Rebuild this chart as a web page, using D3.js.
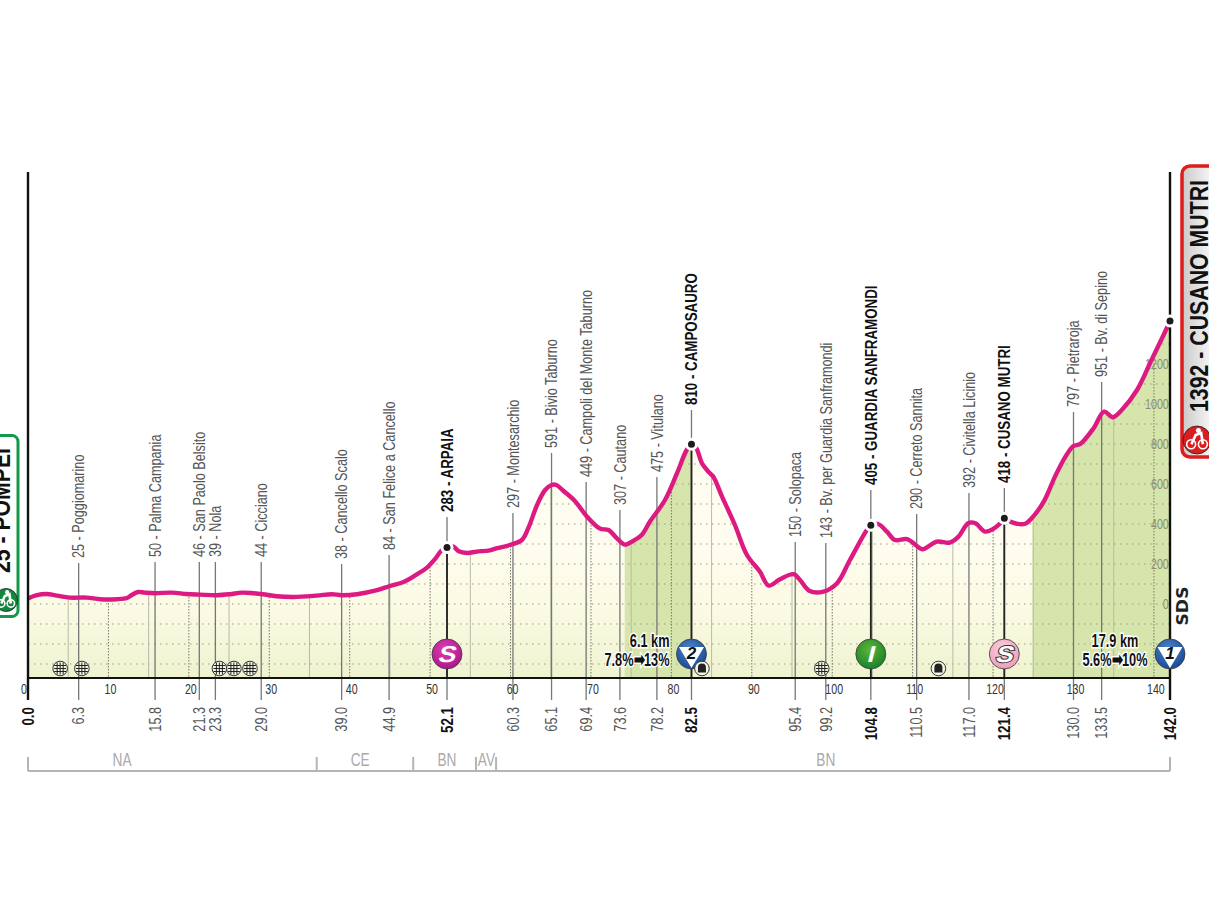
<!DOCTYPE html>
<html>
<head>
  <meta charset="utf-8">
  <title>Stage profile Pompei - Cusano Mutri</title>
  <style>
    html, body { margin: 0; padding: 0; background: #fff; overflow: hidden; }
    svg { display: block; }
    text { font-family: "Liberation Sans", sans-serif; }
  </style>
  <script src="https://d3js.org/d3.v7.min.js"></script>
</head>
<body>
  <div id="chart"></div>
  <script>
    // Profile
    const profileKm = [0, 1.1, 2.3, 3.6, 5.2, 7.3, 9, 11, 12.3, 12.9, 13.7, 14.5, 15.8, 17.9, 19.7, 21.4, 23.5, 25.1, 26.6, 28, 29.2, 30.9, 33, 35.9, 37.8, 39, 40.9, 43.4, 45, 46.7, 48.3, 49.6, 50.6, 51.4, 52.1, 52.9, 53.5, 54.6, 55.8, 57.4, 58.3, 59.9, 61.4, 62.2, 63.3, 64.3, 65.1, 65.7, 66.6, 68, 69.5, 71.1, 72.2, 73.2, 74.2, 75.3, 76.3, 77.3, 79.2, 80.7, 81.9, 82.5, 83.1, 83.8, 84.6, 85.2, 86.3, 87.9, 89.4, 91, 92.1, 93.5, 95.2, 96, 97.2, 98.9, 100.6, 102.2, 104.3, 104.8, 105.7, 106.8, 107.8, 109.3, 110.9, 111.3, 113, 114.6, 115.7, 116.9, 117.8, 119, 120, 120.9, 121.4, 122.3, 123.9, 124.8, 126.3, 127.7, 129, 130, 130.8, 132.5, 133.8, 134.9, 136, 137.9, 139.7, 141.2, 142];
    const profileElev = [28, 44, 50, 42, 32, 32, 24, 24, 30, 45, 60, 57, 54, 57, 50, 47, 44, 49, 57, 54, 49, 39, 35, 42, 49, 44, 49, 69, 90, 110, 147, 182, 224, 267, 282, 287, 265, 255, 262, 268, 279, 295, 320, 379, 495, 570, 595, 595, 565, 515, 437, 377, 370, 329, 297, 317, 345, 410, 520, 654, 770, 799, 779, 704, 662, 637, 537, 395, 245, 162, 92, 124, 149, 120, 65, 62, 104, 220, 370, 394, 400, 362, 320, 324, 279, 274, 312, 307, 337, 404, 404, 362, 375, 404, 429, 409, 400, 429, 512, 637, 737, 790, 799, 879, 962, 934, 970, 1070, 1220, 1345, 1415];

    const placeKm = [6.3, 15.8, 21.3, 23.3, 29.0, 39.0, 44.9, 52.1, 60.3, 65.1, 69.4, 73.6, 78.2, 82.5, 95.4, 99.2, 104.8, 110.5, 117.0, 121.4, 130.0, 133.5];
    const placeNames = ["25 - Poggiomarino", "50 - Palma Campania", "46 - San Paolo Belsito", "39 - Nola", "44 - Cicciano", "38 - Cancello Scalo", "84 - San Felice a Cancello", "283 - ARPAIA", "297 - Montesarchio", "591 - Bivio Taburno", "449 - Campoli del Monte Taburno", "307 - Cautano", "475 - Vitulano", "810 - CAMPOSAURO", "150 - Solopaca", "143 - Bv. per Guardia Sanframondi", "405 - GUARDIA SANFRAMONDI", "290 - Cerreto Sannita", "392 - Civitella Licinio", "418 - CUSANO MUTRI", "797 - Pietraroja", "951 - Bv. di Sepino"];

    const kmTicks = [0, 10, 20, 30, 40, 50, 60, 70, 80, 90, 100, 110, 120, 130, 140];
    const elevTicks = [0, 200, 400, 600, 800, 1000, 1200];

    const climbZones = [[74.2, 82.5], [124.9, 142]];
    const provinceBreaks = [0, 35.9, 47.9, 55.7, 58.2, 142];
    const provinceNames = ["NA", "CE", "BN", "AV", "BN"];
    const provinceLabelKm = [11.7, 41.3, 52.1, 57, 99.2];

    const railKm = [4.0, 6.7, 23.8, 25.6, 27.6, 98.7];
    const tunnelKm = [83.8, 113.2];

    const width = 1209, height = 907;
    // no condensed font here, so squeeze along the reading direction
    const narrow = 0.76, nameNarrow = 0.745, boldNarrow = 0.785;
    const x = d3.scaleLinear().domain([0, 142]).range([28, 1170]);
    const y = d3.scaleLinear().domain([-370, 1415]).range([678, 321]);
    const baseY = y(-370);

    const profile = profileKm.map((km, i) => [km, profileElev[i]]);
    const elevAt = d3.scaleLinear().domain(profileKm).range(profileElev);
    const curve = d3.curveCatmullRom.alpha(0.5);

    const svg = d3.select("#chart").append("svg")
      .attr("width", width)
      .attr("height", height)
      .attr("viewBox", [0, 0, width, height]);

    const defs = svg.append("defs");

    const fade = defs.append("linearGradient").attr("id", "areaFill")
      .attr("gradientUnits", "userSpaceOnUse")
      .attr("x1", 0).attr("x2", 0).attr("y1", 540).attr("y2", baseY);
    fade.append("stop").attr("offset", 0).attr("stop-color", "#fffdf0");
    fade.append("stop").attr("offset", 0.5).attr("stop-color", "#fbfae4");
    fade.append("stop").attr("offset", 1).attr("stop-color", "#eef3cf");

    const endBox = defs.append("linearGradient").attr("id", "endFill")
      .attr("x1", 0).attr("x2", 1).attr("y1", 0).attr("y2", 0);
    endBox.append("stop").attr("offset", 0).attr("stop-color", "#c9c9c9");
    endBox.append("stop").attr("offset", 0.7).attr("stop-color", "#ffffff");

    function badgeFill(id, light, dark) {
      const g = defs.append("radialGradient").attr("id", id)
        .attr("cx", 0.45).attr("cy", 0.35).attr("r", 0.75);
      g.append("stop").attr("offset", 0).attr("stop-color", light);
      g.append("stop").attr("offset", 1).attr("stop-color", dark);
    }
    badgeFill("bMagenta", "#e040b0", "#a5108a");
    badgeFill("bBlue", "#4f86cc", "#123f8e");
    badgeFill("bGreen", "#5fb436", "#0f7a2a");
    badgeFill("bPink", "#fbd3e1", "#ee92b4");

    const areaGen = d3.area().x(d => x(d[0])).y0(baseY).y1(d => y(d[1])).curve(curve);
    const lineGen = d3.line().x(d => x(d[0])).y(d => y(d[1])).curve(curve);

    defs.append("clipPath").attr("id", "underCurve")
      .append("path").attr("d", areaGen(profile));

    svg.append("path").attr("d", areaGen(profile)).attr("fill", "url(#areaFill)");

    const under = svg.append("g").attr("clip-path", "url(#underCurve)");

    // climb shading
    under.selectAll("rect.zone").data(climbZones).enter().append("rect")
      .attr("class", "zone")
      .attr("x", d => x(d[0]))
      .attr("width", d => x(d[1]) - x(d[0]))
      .attr("y", 300)
      .attr("height", baseY - 300)
      .attr("fill", "#d6e5ab");

    // dotted grid, one row every 100 m, one column every 5 km
    under.selectAll("line.rowGrid").data(d3.range(-300, 1401, 100)).enter().append("line")
      .attr("x1", x(0)).attr("x2", x(142))
      .attr("y1", d => y(d)).attr("y2", d => y(d))
      .attr("stroke", "#9a9d80")
      .attr("stroke-width", 1)
      .attr("stroke-dasharray", "1.5 4.5");
    under.selectAll("line.colGrid").data(d3.range(5, 141, 5)).enter().append("line")
      .attr("x1", d => x(d)).attr("x2", d => x(d))
      .attr("y1", 300).attr("y2", baseY)
      .attr("stroke", d => d % 10 === 0 ? "#77796a" : "#b9bba6")
      .attr("stroke-width", 1)
      .attr("stroke-dasharray", d => d % 10 === 0 ? "1.5 1.5" : null);

    // elevation labels on the right
    const elevAxis = svg.append("g")
      .attr("transform", `translate(${x(142) + 1},0)`)
      .call(d3.axisLeft(y).tickValues(elevTicks).tickSize(0).tickFormat(d3.format("d")));
    elevAxis.select(".domain").remove();
    elevAxis.selectAll("text")
      .attr("font-size", 14)
      .attr("font-family", null)
      .attr("fill", "#8b8e72")
      .attr("transform", `scale(${narrow},1)`);

    // leaders and names
    const leaderTops = [563, 562, 562, 562, 562, 564, 555, 517, 513, 453, 482, 510, 477, 410, 542, 543, 490, 514, 493, 488, 412, 382];
    const isBold = d => /^[0-9]+ - [A-Z ]+$/.test(d);
    const squeeze = i => isBold(placeNames[i]) ? boldNarrow : nameNarrow;

    const places = svg.append("g").selectAll("g").data(placeKm).enter().append("g")
      .attr("transform", d => `translate(${x(d)},0)`);

    places.append("line")
      .attr("y1", (d, i) => leaderTops[i])
      .attr("y2", 700)
      .attr("stroke", "#777")
      .attr("stroke-width", 1.3);

    places.filter((d, i) => isBold(placeNames[i])).append("line")
      .attr("y1", d => y(elevAt(d)))
      .attr("y2", baseY)
      .attr("stroke", "#222")
      .attr("stroke-width", 1.8);

    places.append("text")
      .attr("transform", (d, i) => `translate(5.8,${leaderTops[i] - 5}) rotate(-90) scale(${squeeze(i)},1)`)
      .attr("font-size", 17)
      .attr("font-weight", (d, i) => isBold(placeNames[i]) ? "bold" : "normal")
      .attr("fill", (d, i) => isBold(placeNames[i]) ? "#111" : "#555")
      .text((d, i) => placeNames[i]);

    places.append("text")
      .attr("transform", (d, i) => `translate(5.8,707) rotate(-90) scale(${squeeze(i)},1)`)
      .attr("text-anchor", "end")
      .attr("font-size", 17)
      .attr("font-weight", (d, i) => isBold(placeNames[i]) ? "bold" : "normal")
      .attr("fill", (d, i) => isBold(placeNames[i]) ? "#111" : "#555")
      .text(d => d.toFixed(1));

    // the line itself
    svg.append("path")
      .attr("d", lineGen(profile))
      .attr("fill", "none")
      .attr("stroke", "#dc1a82")
      .attr("stroke-width", 4.4)
      .attr("stroke-linejoin", "round");

    // frame
    svg.append("line").attr("x1", x(0)).attr("x2", x(142)).attr("y1", baseY).attr("y2", baseY)
      .attr("stroke", "#111").attr("stroke-width", 2);
    svg.selectAll("line.frame").data([0, 142]).enter().append("line")
      .attr("x1", d => x(d)).attr("x2", d => x(d))
      .attr("y1", 172).attr("y2", 700)
      .attr("stroke", "#111").attr("stroke-width", 2.4);

    // km axis
    const kmAxis = svg.append("g")
      .attr("transform", `translate(0,${baseY})`)
      .call(d3.axisBottom(x).tickValues(kmTicks).tickSize(0).tickFormat(d3.format("d")));
    kmAxis.select(".domain").remove();
    kmAxis.selectAll("text")
      .attr("font-size", 14)
      .attr("font-family", null)
      .attr("fill", "#333")
      .attr("y", 6)
      .attr("transform", d => `translate(${d === 0 ? -4.5 : 1.5},0) scale(${narrow},1)`);

    // first and last km labels sit on the frame
    [[0, "0.0"], [142, "142.0"]].forEach(([km, label]) => {
      svg.append("text")
        .attr("transform", `translate(${x(km) + 5.8},707) rotate(-90) scale(${boldNarrow},1)`)
        .attr("text-anchor", "end")
        .attr("font-size", 17)
        .attr("font-weight", "bold")
        .attr("fill", "#111")
        .text(label);
    });

    // summit dots
    svg.selectAll("circle.summit").data([52.1, 82.5, 104.8, 121.4, 142]).enter().append("circle")
      .attr("cx", d => x(d))
      .attr("cy", d => y(elevAt(d)))
      .attr("r", 5)
      .attr("fill", "#1c1c1c")
      .attr("stroke", "#fff")
      .attr("stroke-width", 3);

    // badges
    function badge(km, fill) {
      const g = svg.append("g").attr("transform", `translate(${x(km)},654)`);
      g.append("circle").attr("r", 15).attr("fill", `url(#${fill})`)
        .attr("stroke", "#3a3a3a").attr("stroke-width", 0.8);
      return g;
    }
    function letter(g, txt, fill, stroke) {
      g.append("text")
        .attr("text-anchor", "middle")
        .attr("transform", "skewX(-14) scale(1.15,1)")
        .attr("x", 1)
        .attr("y", 8)
        .attr("font-size", 23)
        .attr("font-weight", "bold")
        .attr("fill", fill)
        .attr("stroke", stroke || "none")
        .attr("stroke-width", stroke ? 2 : 0)
        .attr("paint-order", "stroke")
        .text(txt);
    }
    function gpm(km, num) {
      const g = badge(km, "bBlue");
      g.append("path").attr("d", "M-12.5,-7 L12.5,-7 L0,14 Z").attr("fill", "#fff");
      g.append("text").attr("text-anchor", "middle").attr("y", 5)
        .attr("font-size", 17).attr("font-weight", "bold").attr("font-style", "italic")
        .attr("fill", "#111").text(num);
    }
    letter(badge(52.1, "bMagenta"), "S", "#fff");
    gpm(82.5, "2");
    letter(badge(104.8, "bGreen"), "I", "#fff");
    letter(badge(121.4, "bPink"), "S", "#fff", "#333");
    gpm(142, "1");

    // level crossings
    const rail = svg.selectAll("g.rail").data(railKm).enter().append("g")
      .attr("transform", d => `translate(${x(d)},668.5)`);
    rail.append("circle").attr("r", 7.3).attr("fill", "#f4f6e4").attr("stroke", "#333").attr("stroke-width", 1);
    [-3, 0, 3].forEach(o => rail.append("line").attr("x1", o).attr("x2", o).attr("y1", -6).attr("y2", 6).attr("stroke", "#222").attr("stroke-width", 1));
    [-3, 0, 3].forEach(o => rail.append("line").attr("x1", -6).attr("x2", 6).attr("y1", o).attr("y2", o).attr("stroke", "#222").attr("stroke-width", 1));

    // tunnels
    const tunnel = svg.selectAll("g.tunnel").data(tunnelKm).enter().append("g")
      .attr("transform", d => `translate(${x(d)},668.5)`);
    tunnel.append("circle").attr("r", 7.3).attr("fill", "#f4f6e4").attr("stroke", "#333").attr("stroke-width", 1);
    tunnel.append("path").attr("d", "M-4,4 V-1 A4,4 0 0 1 4,-1 V4 Z").attr("fill", "#222");

    // climb captions
    function caption(xPos, anchor, line1, line2) {
      [[646.5, line1], [666, line2]].forEach(([yy, t]) => {
        svg.append("text")
          .attr("transform", `translate(${xPos},${yy}) scale(0.69,1)`)
          .attr("text-anchor", anchor)
          .attr("font-size", 18.5)
          .attr("font-weight", "bold")
          .attr("fill", "#111")
          .attr("stroke", "#fff")
          .attr("stroke-width", 3)
          .attr("paint-order", "stroke")
          .text(t);
      });
    }
    caption(669.5, "end", "6.1 km", "7.8%\u27A113%");
    caption(1115, "middle", "17.9 km", "5.6%\u27A110%");

    // SDS mark
    svg.append("text")
      .attr("transform", "translate(1188,606) rotate(-90)")
      .attr("text-anchor", "middle")
      .style("font-family", "DejaVu Sans")
      .attr("font-size", 16)
      .attr("font-weight", "bold")
      .attr("fill", "#222")
      .attr("textLength", 39)
      .attr("lengthAdjust", "spacingAndGlyphs")
      .text("SDS");

    // province brackets
    svg.append("line").attr("x1", x(0)).attr("x2", x(142)).attr("y1", 771).attr("y2", 771)
      .attr("stroke", "#b5b5b5").attr("stroke-width", 2);
    svg.selectAll("line.prov").data(provinceBreaks).enter().append("line")
      .attr("x1", d => x(d)).attr("x2", d => x(d))
      .attr("y1", 757).attr("y2", 771)
      .attr("stroke", "#b5b5b5").attr("stroke-width", 2);
    svg.selectAll("text.prov").data(provinceNames).enter().append("text")
      .attr("transform", (d, i) => `translate(${x(provinceLabelKm[i])},766) scale(${narrow},1)`)
      .attr("text-anchor", "middle")
      .attr("font-size", 18)
      .attr("fill", "#aaa")
      .text(d => d);

    // start and finish plates
    function rider(cx, cy, r, colour) {
      const g = svg.append("g").attr("transform", `translate(${cx},${cy})`);
      g.append("circle").attr("r", r).attr("fill", colour).attr("stroke", "#222").attr("stroke-width", 0.8);
      [-r * 0.42, r * 0.42].forEach(o => g.append("circle")
        .attr("cx", o).attr("cy", r * 0.3).attr("r", r * 0.32)
        .attr("fill", "none").attr("stroke", "#fff").attr("stroke-width", 1.6));
      g.append("path")
        .attr("d", `M${-r * 0.4},${r * 0.3} L${-r * 0.1},${-r * 0.35} L${r * 0.3},${-r * 0.5} L${r * 0.42},${r * 0.3}`)
        .attr("fill", "none").attr("stroke", "#fff").attr("stroke-width", 2.6);
      g.append("circle").attr("cx", r * 0.1).attr("cy", -r * 0.68).attr("r", r * 0.18).attr("fill", "#fff");
    }

    svg.append("rect")
      .attr("x", -20).attr("y", 435.5).attr("width", 38).attr("height", 181).attr("rx", 6)
      .attr("fill", "#fff").attr("stroke", "#12994a").attr("stroke-width", 3);
    svg.append("text")
      .attr("transform", "translate(10,573) rotate(-90)")
      .attr("font-size", 25).attr("font-weight", "bold").attr("fill", "#111")
      .attr("textLength", 125).attr("lengthAdjust", "spacingAndGlyphs")
      .text("25 - POMPEI");
    rider(6, 600, 11.5, "#11883c");

    svg.append("rect")
      .attr("x", 1182).attr("y", 166).attr("width", 50).attr("height", 291).attr("rx", 8)
      .attr("fill", "url(#endFill)").attr("stroke", "#dd1c1c").attr("stroke-width", 3.5);
    svg.append("text")
      .attr("transform", "translate(1208,412) rotate(-90)")
      .attr("font-size", 25).attr("font-weight", "bold").attr("fill", "#111")
      .attr("textLength", 232).attr("lengthAdjust", "spacingAndGlyphs")
      .text("1392 - CUSANO MUTRI");
    rider(1197, 440, 14, "#d81e1e");
  </script>
</body>
</html>
